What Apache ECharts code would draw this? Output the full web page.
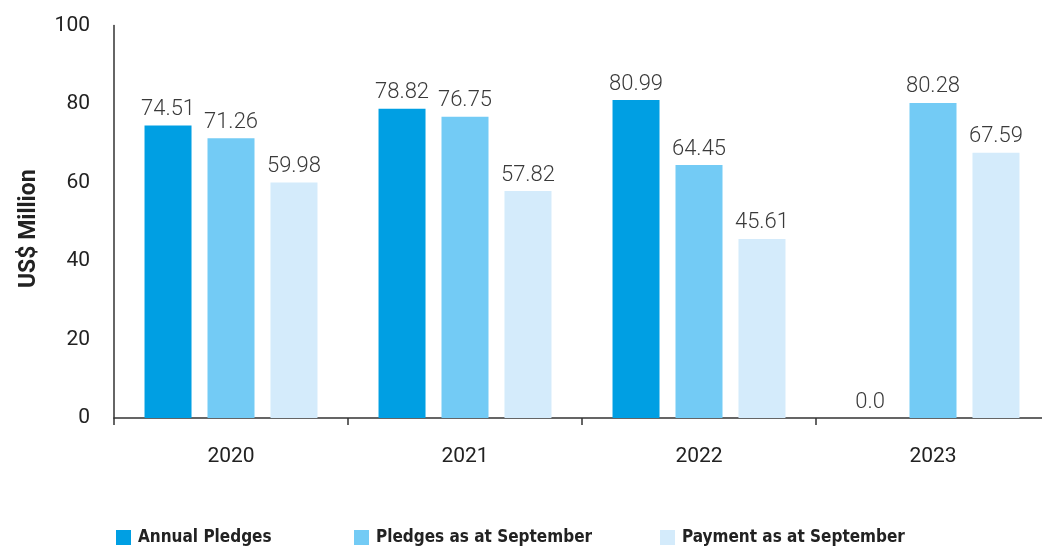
<!DOCTYPE html>
<html>
<head>
<meta charset="utf-8">
<script src="https://cdn.jsdelivr.net/npm/echarts@6/dist/echarts.min.js"></script>
<style>
html, body { margin: 0; padding: 0; background: #ffffff; }
#main { width: 1042px; height: 547px; }
</style>
</head>
<body>
<div id="main"></div>
<script>
// 数据
var years = ['2020', '2021', '2022', '2023'];
var annualPledges = [74.51, 78.82, 80.99, 0];
var pledgesSept = [71.26, 76.75, 64.45, 80.28];
var paymentSept = [59.98, 57.82, 45.61, 67.59];

var colors = ['#009fe3', '#73cbf5', '#d4ebfb'];
var names = ['Annual Pledges', 'Pledges as at September', 'Payment as at September'];

var chart = echarts.init(document.getElementById('main'));

function legendAt(name, left) {
	return {
		data: [name],
		left: left,
		top: 529,
		padding: 0,
		icon: 'rect',
		itemWidth: 15,
		itemHeight: 15,
		itemGap: 0,
		textStyle: { fontFamily: 'DejaVu Sans Condensed', fontWeight: 'bold', fontSize: 17, color: '#222', padding: [0, 0, 0, 2] }
	};
}

function barSeries(i, data) {
	return {
		name: names[i],
		type: 'bar',
		data: data,
		barWidth: 47,
		barGap: '34%',
		itemStyle: { color: colors[i] },
		label: {
			show: true,
			position: 'top',
			distance: 5,
			fontFamily: 'Roboto',
			fontWeight: 300,
			fontSize: 22,
			color: '#3a3a3a',
			formatter: function (p) {
				return p.value === 0 ? '0.0' : p.value.toFixed(2);
			}
		}
	};
}

var option = {
	backgroundColor: '#ffffff',
	animation: false,
	legend: [
		legendAt(names[0], 116),
		legendAt(names[1], 354),
		legendAt(names[2], 660)
	],
	grid: { left: 114, top: 25.5, width: 936, height: 392.5, outerBoundsMode: 'none', containLabel: false },
	xAxis: {
		type: 'category',
		data: years,
		axisLine: { lineStyle: { color: '#333', width: 1.5 } },
		axisTick: { show: true, length: 7, lineStyle: { color: '#333', width: 1.5 } },
		axisLabel: { fontFamily: 'Roboto', fontSize: 21, color: '#222', margin: 28 }
	},
	yAxis: {
		type: 'value',
		min: 0,
		max: 100,
		interval: 20,
		name: 'US$ Million',
		nameLocation: 'middle',
		nameGap: 73,
		nameTextStyle: { fontFamily: 'Roboto', fontWeight: 'bold', fontSize: 23, color: '#222', padding: [0, 14, 0, 0] },
		axisLine: { show: true, lineStyle: { color: '#333', width: 1.5 } },
		axisTick: { show: false },
		splitLine: { show: false },
		axisLabel: { fontFamily: 'Roboto', fontSize: 21, color: '#222', margin: 24 }
	},
	series: [
		barSeries(0, annualPledges),
		barSeries(1, pledgesSept),
		barSeries(2, paymentSept)
	]
};

chart.setOption(option);
</script>
</body>
</html>
